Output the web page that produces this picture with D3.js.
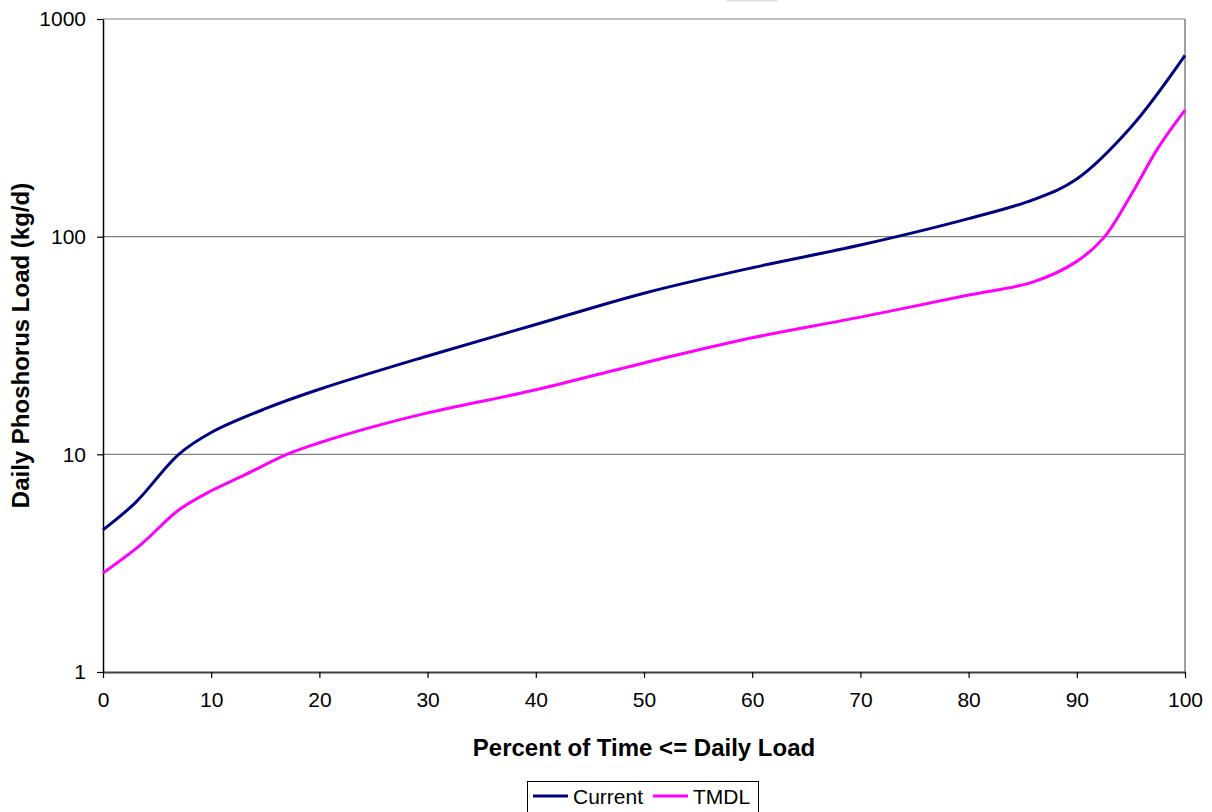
<!DOCTYPE html>
<html>
<head>
<meta charset="utf-8">
<script src="https://cdn.jsdelivr.net/npm/d3@7"></script>
<style>
	body { margin: 0; background: #fff; }
	svg { display: block; font-family: "Liberation Sans", Arial, sans-serif; }
</style>
</head>
<body>
<svg id="chart" width="1212" height="812"></svg>
<script>
// percent of time <= daily load, and daily phosphorus load (kg/d)
var currentPct = [0, 3, 7, 10, 15, 20, 30, 40, 50, 60, 70, 80, 86, 90, 95, 100];
var currentLoad = [4.5, 6.0, 10, 12.6, 16.2, 19.9, 28.3, 39.5, 55, 72, 91.5, 121, 148, 184, 318, 680];
var tmdlPct = [0, 3.5, 7, 10, 13, 17, 20, 25, 30, 40, 50, 60, 70, 80, 86, 90, 92.5, 95, 97.5, 100];
var tmdlLoad = [2.85, 3.85, 5.55, 6.8, 8.0, 10, 11.3, 13.4, 15.5, 19.8, 26.3, 34.3, 42.7, 53.9, 62, 77, 99, 155, 255, 381];
var xTicks = [0, 10, 20, 30, 40, 50, 60, 70, 80, 90, 100];
var yTicks = [1, 10, 100, 1000];
var seriesNames = ["Current", "TMDL"];
var seriesColors = ["#000080", "#ff00ff"];

var svg = d3.select("#chart"),
	plotLeft = 103, plotRight = 1185, plotTop = 19, plotBottom = 672;

var x = d3.scaleLinear().domain([0, 100]).range([plotLeft, plotRight]);
var y = d3.scaleLog().domain([1, 1000]).range([plotBottom, plotTop]);

// faint box at top edge
svg.append("rect")
	.attr("x", 726).attr("y", 0).attr("width", 52).attr("height", 1.5)
	.attr("fill", "#e0e0e0");

// gridlines
svg.append("g")
	.selectAll("line")
	.data(yTicks.slice(1))
	.enter().append("line")
	.attr("x1", plotLeft).attr("x2", plotRight)
	.attr("y1", function (d) { return y(d); })
	.attr("y2", function (d) { return y(d); })
	.attr("stroke", "#808080")
	.attr("stroke-width", 1.2);

// right border
svg.append("line")
	.attr("x1", plotRight).attr("x2", plotRight).attr("y1", plotTop).attr("y2", plotBottom)
	.attr("stroke", "#808080").attr("stroke-width", 1.5);

// y axis
var yAxis = svg.append("g")
	.attr("transform", "translate(" + plotLeft + ",0)")
	.call(d3.axisLeft(y).tickValues(yTicks).tickFormat(d3.format("d")).tickSize(6).tickSizeOuter(0).tickPadding(11));
yAxis.select(".domain").attr("stroke", "#000").attr("stroke-width", 1.5);
yAxis.selectAll(".tick line").attr("stroke", "#000").attr("stroke-width", 1.2);
yAxis.selectAll("text").attr("font-size", 21).attr("fill", "#000");

// x axis
var xAxis = svg.append("g")
	.attr("transform", "translate(0," + plotBottom + ")")
	.call(d3.axisBottom(x).tickValues(xTicks).tickSize(6).tickSizeOuter(0).tickPadding(14));
xAxis.select(".domain").attr("stroke", "#404040").attr("stroke-width", 2);
xAxis.selectAll(".tick line").attr("stroke", "#000").attr("stroke-width", 1.2);
xAxis.selectAll("text").attr("font-size", 21).attr("fill", "#000");

// series
var line = d3.line()
	.x(function (d) { return x(d[0]); })
	.y(function (d) { return y(d[1]); })
	.curve(d3.curveCatmullRom.alpha(0.5));

var series = [
	{ pct: currentPct, load: currentLoad },
	{ pct: tmdlPct, load: tmdlLoad }
];

series.forEach(function (s, i) {
	svg.append("path")
		.datum(s.pct.map(function (p, j) { return [p, s.load[j]]; }))
		.attr("d", line)
		.attr("fill", "none")
		.attr("stroke", seriesColors[i])
		.attr("stroke-width", 3);
});

// axis titles
svg.append("text")
	.attr("x", (plotLeft + plotRight) / 2).attr("y", 756)
	.attr("text-anchor", "middle")
	.attr("font-size", 24).attr("font-weight", "bold")
	.text("Percent of Time <= Daily Load");

svg.append("text")
	.attr("transform", "translate(29," + ((plotTop + plotBottom) / 2) + ") rotate(-90)")
	.attr("text-anchor", "middle")
	.attr("font-size", 24).attr("font-weight", "bold")
	.text("Daily Phoshorus Load (kg/d)");

// legend
var legend = svg.append("g");
legend.append("rect")
	.attr("x", 527.5).attr("y", 781.5).attr("width", 231).attr("height", 40)
	.attr("fill", "#fff").attr("stroke", "#000").attr("stroke-width", 1);

var legendX = [533, 653];
seriesNames.forEach(function (name, i) {
	legend.append("line")
		.attr("x1", legendX[i]).attr("x2", legendX[i] + 35)
		.attr("y1", 796).attr("y2", 796)
		.attr("stroke", seriesColors[i]).attr("stroke-width", 3);
	legend.append("text")
		.attr("x", legendX[i] + 40).attr("y", 803.5)
		.attr("font-size", 21)
		.text(name);
});
</script>
</body>
</html>
